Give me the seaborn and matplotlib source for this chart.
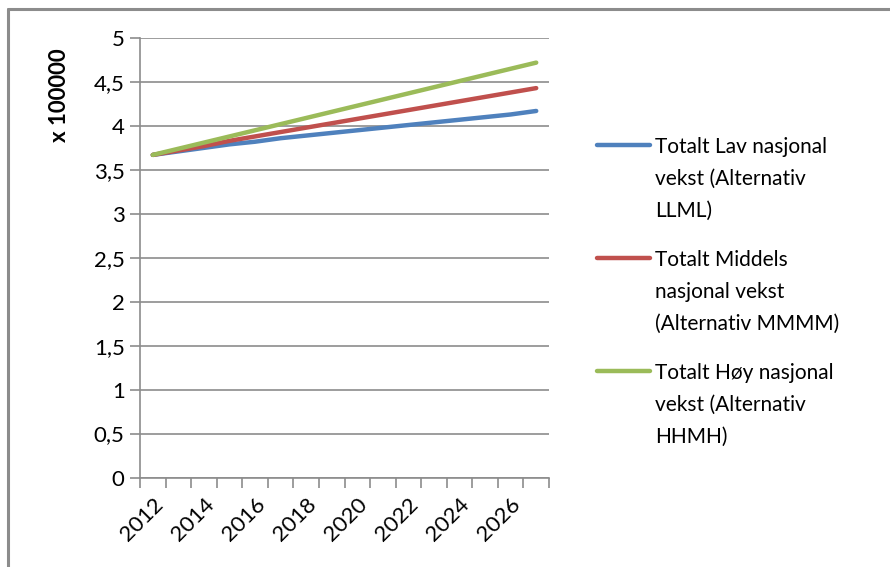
import numpy as np
import pandas as pd
import matplotlib
matplotlib.use("Agg")
import matplotlib.pyplot as plt
from matplotlib.lines import Line2D
from matplotlib.ticker import FixedLocator, FuncFormatter
import seaborn as sns

# data (values in units of 100000)
years = list(range(2012, 2028))
lav = [3.67, 3.71, 3.75, 3.79, 3.82, 3.86, 3.89, 3.92, 3.95, 3.98, 4.01, 4.04, 4.07, 4.10, 4.13, 4.17]
middels = [3.67, 3.72, 3.77, 3.83, 3.88, 3.93, 3.98, 4.03, 4.08, 4.13, 4.18, 4.23, 4.28, 4.33, 4.38, 4.43]
hoy = [3.67, 3.74, 3.81, 3.88, 3.95, 4.02, 4.09, 4.16, 4.23, 4.30, 4.37, 4.44, 4.51, 4.58, 4.65, 4.72]

series_names = [
    "Totalt Lav nasjonal\nvekst (Alternativ\nLLML)",
    "Totalt Middels\nnasjonal vekst\n(Alternativ MMMM)",
    "Totalt Høy nasjonal\nvekst (Alternativ\nHHMH)",
]
colors = ["#4F81BD", "#C0504D", "#9BBB59"]

rows = []
for name, vals in zip(series_names, [lav, middels, hoy]):
    for i, (yr, v) in enumerate(zip(years, vals)):
        rows.append({"idx": i, "year": yr, "value": v, "serie": name})
df = pd.DataFrame(rows)

sns.set_theme(style="white")
plt.rcParams["font.family"] = ["Lato", "DejaVu Sans"]
plt.rcParams["text.color"] = "black"

W, H = 890, 567
fig = plt.figure(figsize=(8.9, 5.67), dpi=100)
ax = fig.add_axes([140 / W, 1 - 477.5 / H, (549 - 140) / W, (477.5 - 38) / H])

sns.lineplot(data=df, x="idx", y="value", hue="serie", palette=colors,
             linewidth=3.2, ax=ax, legend=False, solid_capstyle="round")

grid_c = "#8C8C8C"
ax.set_xlim(-0.5, len(years) - 0.5)
ax.set_ylim(0, 5)
ax.set_yticks(np.arange(0, 5.01, 0.5))
ax.yaxis.set_major_formatter(FuncFormatter(lambda v, p: f"{v:g}".replace(".", ",")))
ax.grid(axis="y", color=grid_c, linewidth=1.2)
ax.set_axisbelow(True)

# Excel category axis: labels at category centres, tick marks between categories
ax.set_xticks(range(0, len(years), 2))
ax.set_xticklabels([str(y) for y in years[::2]], rotation=45, ha="right",
                   rotation_mode="anchor")
ax.xaxis.set_minor_locator(FixedLocator(np.arange(-0.5, len(years), 1)))
ax.tick_params(axis="x", which="major", bottom=True, length=0, pad=12, labelsize=16,
               labelcolor="black")
ax.tick_params(axis="x", which="minor", bottom=True, length=7, width=1.2, color=grid_c,
               direction="out")
ax.tick_params(axis="y", which="major", left=True, length=7, width=1.2, color=grid_c,
               direction="out", labelsize=16, pad=4, labelcolor="black")

for s in ["top", "right"]:
    ax.spines[s].set_visible(False)
for s in ["left", "bottom"]:
    ax.spines[s].set_color(grid_c)
    ax.spines[s].set_linewidth(1.2)

ax.set_xlabel("")
ax.set_ylabel("")
fig.text(60 / W, 1 - 95 / H, "x 100000", rotation=90, ha="center", va="center",
         fontsize=16, fontweight="bold")

# legend drawn by hand so the key line sits at the first text line (Excel style)
leg_y = [145, 258, 371]
for name, c, yy in zip(series_names, colors, leg_y):
    fig.add_artist(Line2D([597 / W, 650 / W], [1 - yy / H, 1 - yy / H], color=c,
                          linewidth=3.2, solid_capstyle="round", transform=fig.transFigure))
    fig.text(655 / W, 1 - (yy - 8) / H, name, ha="left", va="top", fontsize=15,
             linespacing=1.75, color="black")

# chart border (only top and left visible in the crop)
fig.add_artist(Line2D([8 / W, 8 / W], [0, 1 - 9 / H], color="#8C8C8C", linewidth=2.2,
                      transform=fig.transFigure))
fig.add_artist(Line2D([8 / W, 1], [1 - 9 / H, 1 - 9 / H], color="#8C8C8C", linewidth=2.2,
                      transform=fig.transFigure))

fig.savefig("out.png", dpi=100)
